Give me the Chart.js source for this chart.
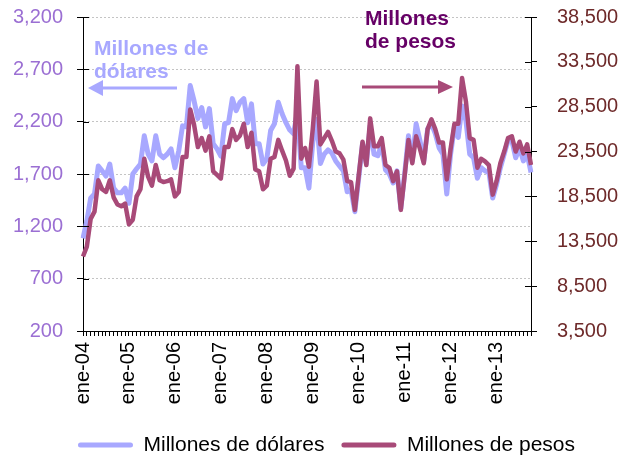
<!DOCTYPE html>
<html lang="es">
<head>
<meta charset="UTF-8">
<title>Millones de dólares y pesos</title>
<script src="https://cdn.jsdelivr.net/npm/chart.js@4.4.0/dist/chart.umd.min.js"></script>
<style>
  html, body { margin: 0; padding: 0; background: #fff; }
  #wrap { width: 621px; height: 459px; }
</style>
</head>
<body>
<div id="wrap"><canvas id="chart" width="621" height="459"></canvas></div>
<script>
  // monthly series, ene-04 .. oct-13
  const monthNames = ['ene', 'feb', 'mar', 'abr', 'may', 'jun', 'jul', 'ago', 'sep', 'oct', 'nov', 'dic'];
  const years = ['04', '05', '06', '07', '08', '09', '10', '11', '12', '13'];
  const labels = [];
  years.forEach(y => monthNames.forEach(m => labels.push(m + '-' + y)));
  labels.length = 118;

  const dolares = [
    1085, 1250, 1470, 1510, 1777, 1730, 1680, 1795, 1565, 1520, 1520, 1565,
    1420, 1700, 1750, 1795, 2065, 1890, 1825, 2065, 1890, 1855, 1890, 1940,
    1760, 1920, 2160, 2150, 2545, 2400, 2230, 2335, 2150, 2325, 1990, 1940,
    1870, 2180, 2190, 2420, 2305, 2385, 2420, 2190, 2370, 1990, 1990, 1795,
    1845, 2115, 2180, 2385, 2275, 2190, 2120, 2085, 2300, 1760, 1760, 1565,
    2000, 2220, 1800, 1890, 1930, 1900, 1825, 1777, 1730, 1530, 1550, 1340,
    1660, 1990, 1800, 2160, 1890, 1875, 1990, 1740, 1700, 1615, 1730, 1370,
    1700, 2065, 1825, 2180, 2020, 1825, 2130, 2180, 2085, 1950, 1890, 1510,
    1890, 2150, 2050, 2350, 2210, 1890, 1855, 1660, 1760, 1730, 1715, 1470,
    1600, 1760, 1890, 2020, 2020, 1855, 1950, 1825, 1890, 1715
  ];
  const pesos = [
    11800, 12900, 16000, 16800, 20300, 19300, 19000, 20300, 18400, 17600, 17400, 17700,
    15400, 15900, 18500, 19300, 22700, 20700, 19700, 22000, 20300, 20100, 20200, 20400,
    18500, 19000, 22900, 22900, 28200, 26500, 24000, 25000, 23600, 25200, 21300, 20900,
    20500, 24000, 24000, 26000, 24800, 25300, 26600, 24000, 25600, 21500, 21300, 19300,
    19700, 22700, 22900, 24800, 23600, 22500, 20800, 21600, 33000, 22700, 23900, 21800,
    26000, 31300, 24300, 25000, 25700, 24700, 23500, 23300, 22600, 20200, 20100, 17000,
    20800, 24600, 22000, 27200, 24100, 24100, 25000, 22000, 21700, 20200, 21300, 17000,
    20800, 24800, 22200, 25200, 23800, 22200, 26000, 27100, 26000, 24500, 24500, 20400,
    23800, 26600, 26600, 31700, 29100, 25000, 24800, 21700, 22700, 22400, 22000, 18700,
    20200, 22200, 23500, 25000, 25200, 23500, 24600, 23300, 24300, 22000
  ];

  const BLUE = '#A8A8FF';
  const PLUM = '#A84A78';
  const FONT = "'Liberation Sans', Arial, sans-serif";

  function arrow(ctx, x1, x2, y, head, half, color) {
    // x2 is the tip
    const dir = x2 > x1 ? 1 : -1;
    ctx.strokeStyle = color;
    ctx.fillStyle = color;
    ctx.lineWidth = 3;
    ctx.beginPath();
    ctx.moveTo(x1, y);
    ctx.lineTo(x2 - dir * head, y);
    ctx.stroke();
    ctx.beginPath();
    ctx.moveTo(x2, y);
    ctx.lineTo(x2 - dir * head, y - half);
    ctx.lineTo(x2 - dir * head, y + half);
    ctx.closePath();
    ctx.fill();
  }

  // tick padding would otherwise push the plot area down
  function noEdgePadding(s) {
    s.paddingTop = 0;
    s.paddingBottom = 0;
  }

  const extras = {
    id: 'extras',
    afterLayout(chart) {
      // legend sits lower and a bit right of where chart.js centres it
      const lg = chart.legend;
      const h = lg.bottom - lg.top;
      lg.top = 417.5;
      lg.bottom = lg.top + h;
      lg.left += 16;
      lg.right += 16;
    },
    afterDraw(chart) {
      const ctx = chart.ctx;
      const a = chart.chartArea;
      ctx.save();
      // inner half of the axis tick marks
      ctx.strokeStyle = '#000';
      ctx.lineWidth = 1;
      const yl = chart.scales.y, yr = chart.scales.y2;
      yl.ticks.forEach((t, i) => {
        const py = Math.round(yl.getPixelForTick(i)) + 0.5;
        ctx.beginPath(); ctx.moveTo(a.left, py); ctx.lineTo(a.left + 6, py); ctx.stroke();
      });
      yr.ticks.forEach((t, i) => {
        const py = Math.round(yr.getPixelForTick(i)) + 0.5;
        ctx.beginPath(); ctx.moveTo(a.right - 6, py); ctx.lineTo(a.right, py); ctx.stroke();
      });

      ctx.font = 'bold 21px ' + FONT;
      ctx.textBaseline = 'alphabetic';
      ctx.textAlign = 'left';
      ctx.fillStyle = BLUE;
      ctx.fillText('Millones de', 94, 55);
      ctx.fillText('dólares', 94, 78);
      arrow(ctx, 177, 88, 88, 15, 8, BLUE);

      ctx.fillStyle = '#660066';
      ctx.fillText('Millones', 365, 25);
      ctx.fillText('de pesos', 365, 48);
      arrow(ctx, 362, 453, 87, 15, 7, PLUM);
      ctx.restore();
    }
  };

  const ctx = document.getElementById('chart').getContext('2d');
  new Chart(ctx, {
    type: 'line',
    data: {
      labels,
      datasets: [
        {
          label: 'Millones de dólares',
          data: dolares,
          yAxisID: 'y',
          borderColor: BLUE,
          backgroundColor: BLUE,
          borderWidth: 5,
          borderJoinStyle: 'round',
          pointRadius: 0,
          tension: 0,
          order: 2
        },
        {
          label: 'Millones de pesos',
          data: pesos,
          yAxisID: 'y2',
          borderColor: PLUM,
          backgroundColor: PLUM,
          borderWidth: 4.5,
          borderJoinStyle: 'round',
          pointRadius: 0,
          tension: 0,
          order: 1
        }
      ]
    },
    options: {
      responsive: false,
      animation: false,
      layout: { padding: { left: 0, right: 0, top: 17, bottom: 0 } },
      plugins: {
        tooltip: { enabled: false },
        legend: {
          position: 'bottom',
          labels: {
            font: { family: FONT, size: 21 },
            color: '#000',
            boxWidth: 55,
            boxHeight: 5,
            padding: 17,
            useBorderRadius: true,
            borderRadius: 2.5,
            sort: (a, b) => a.datasetIndex - b.datasetIndex,
            generateLabels(chart) {
              const items = Chart.defaults.plugins.legend.labels.generateLabels(chart);
              items.forEach(it => { it.lineWidth = 0; });
              return items;
            }
          }
        }
      },
      scales: {
        x: {
          afterFit(s) { s.height = 80; },
          grid: { drawOnChartArea: false, color: '#000', tickLength: 5 },
          border: { color: '#000', width: 1 },
          ticks: {
            autoSkip: false,
            maxRotation: 90,
            minRotation: 90,
            padding: 6,
            color: '#000',
            font: { family: FONT, size: 20 },
            callback: (v, i) => (i % 12 === 0 ? labels[i] : '')
          }
        },
        y: {
          position: 'left',
          min: 200,
          max: 3200,
          afterFit(s) { s.width = 83; noEdgePadding(s); },
          grid: { color: '#C4C4C4', tickColor: '#000', tickLength: 6 },
          border: { color: '#000', width: 1, dash: [2, 2] },
          ticks: {
            stepSize: 500,
            padding: 14,
            color: '#9B6FD3',
            font: { family: FONT, size: 20 },
            callback: v => v.toLocaleString('en-US')
          }
        },
        y2: {
          position: 'right',
          min: 3500,
          max: 38500,
          afterFit(s) { s.width = 90; noEdgePadding(s); },
          grid: { drawOnChartArea: false, color: '#000', tickLength: 6 },
          border: { color: '#000', width: 1 },
          ticks: {
            stepSize: 5000,
            padding: 20,
            color: '#6E2A2A',
            font: { family: FONT, size: 20 },
            callback: v => v.toLocaleString('en-US')
          }
        }
      }
    },
    plugins: [extras]
  });
</script>
</body>
</html>
